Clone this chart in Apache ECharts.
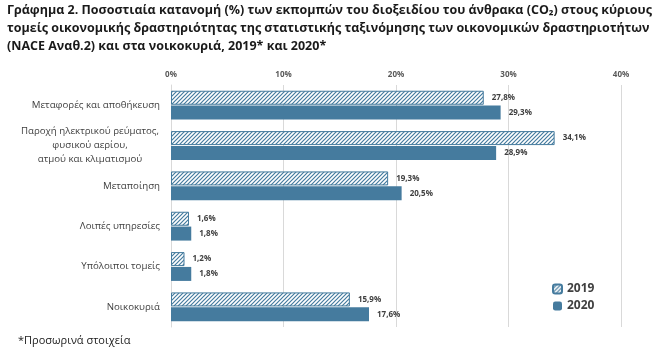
<!DOCTYPE html>
<html><head><meta charset="utf-8">
<script src="https://cdn.jsdelivr.net/npm/echarts@6/dist/echarts.min.js"></script>
<style>html,body{margin:0;padding:0;background:#fff}#c{width:665px;height:354px}</style>
</head><body><div id="c"></div>
<script>
const categories = ["Μεταφορές και αποθήκευση","Παροχή ηλεκτρικού ρεύματος,\nφυσικού αερίου,\nατμού και κλιματισμού","Μεταποίηση","Λοιπές υπηρεσίες","Υπόλοιποι τομείς","Νοικοκυριά"];
const values2019 = [27.8, 34.1, 19.3, 1.6, 1.2, 15.9];
const values2020 = [29.3, 28.9, 20.5, 1.8, 1.8, 17.6];
const seriesNames = ["2019","2020"];
const titleLines = ["Γράφημα 2. Ποσοστιαία κατανομή (%) των εκπομπών του διοξειδίου του άνθρακα (CO\u2082) στους κύριους","τομείς οικονομικής δραστηριότητας της στατιστικής ταξινόμησης των οικονομικών δραστηριοτήτων","(NACE Αναθ.2) και στα νοικοκυριά, 2019* και 2020*"];
const footnote = "*Προσωρινά στοιχεία";

const BLUE = '#457b9e';
function hatch(){
  const c = document.createElement('canvas'); c.width = 4; c.height = 4;
  const g = c.getContext('2d');
  g.fillStyle = '#fff'; g.fillRect(0,0,4,4);
  g.strokeStyle = BLUE; g.lineWidth = 1.2;
  g.beginPath(); g.moveTo(0,4); g.lineTo(4,0); g.moveTo(-1,1); g.lineTo(1,-1); g.moveTo(3,5); g.lineTo(5,3); g.stroke();
  return c;
}
const pat = {image: hatch(), repeat: 'repeat'};
const F = '"Open Sans", "Noto Sans", sans-serif';
const TF = 'bold 12.5px ' + F;
const chart = echarts.init(document.getElementById('c'), null, {renderer: 'canvas'});
chart.setOption({
  animation: false,
  graphic: [
    {type:'text', left: 7, top: 4, style:{text: titleLines[0], font: TF, fill:'#1a1a1a'}},
    {type:'text', left: 7, top: 22, style:{text: titleLines[1], font: TF, fill:'#1a1a1a'}},
    {type:'text', left: 7, top: 40, style:{text: titleLines[2], font: TF, fill:'#1a1a1a'}},
    {type:'text', left: 18, top: 335, style:{text: footnote, font: '11px ' + F, fill:'#1a1a1a'}}
  ],
  legend: {
    orient: 'vertical', left: 547, top: 278, itemWidth: 9, itemHeight: 9, itemGap: 5,
    textStyle: {fontFamily: F, fontWeight: 'bold', fontSize: 12, color: '#404040'},
    data: seriesNames
  },
  grid: {left: 171, right: 44, top: 85, bottom: 27, containLabel: false},
  xAxis: {
    type: 'value', position: 'top', min: 0, max: 40, interval: 10,
    axisLabel: {formatter: '{value}%', fontFamily: F, fontSize: 8, fontWeight: 'bold', color: '#595959', margin: 6},
    splitLine: {lineStyle: {color: '#d9d9d9'}},
    axisLine: {show: false}, axisTick: {show: false}
  },
  yAxis: {
    type: 'category', data: categories, inverse: true,
    axisLine: {show: true, lineStyle: {color: '#d9d9d9'}}, axisTick: {show: false},
    axisLabel: {
      fontFamily: F, fontSize: 9.7, color: '#404040', margin: 11,
      formatter: function(v){
        if (v.indexOf('\n') < 0) return v;
        return v.split('\n').map(s => '{c|' + s + '}').join('\n');
      },
      rich: {c: {width: 140, align: 'center', fontFamily: F, fontSize: 9.7, color: '#404040', lineHeight: 14}}
    }
  },
  series: [
    {name: seriesNames[0], type: 'bar', data: values2019, barWidth: 14, barGap: '6%',
     itemStyle: {color: pat, borderColor: BLUE, borderWidth: 1},
     label: {show: true, position: 'right', distance: 8, formatter: p => p.value.toFixed(1).replace('.', ',') + '%', fontFamily: F, fontSize: 8, fontWeight: 'bold', color: '#404040'}},
    {name: seriesNames[1], type: 'bar', data: values2020, barWidth: 14,
     itemStyle: {color: BLUE},
     label: {show: true, position: 'right', distance: 8, formatter: p => p.value.toFixed(1).replace('.', ',') + '%', fontFamily: F, fontSize: 8, fontWeight: 'bold', color: '#404040'}}
  ]
});
</script></body></html>
